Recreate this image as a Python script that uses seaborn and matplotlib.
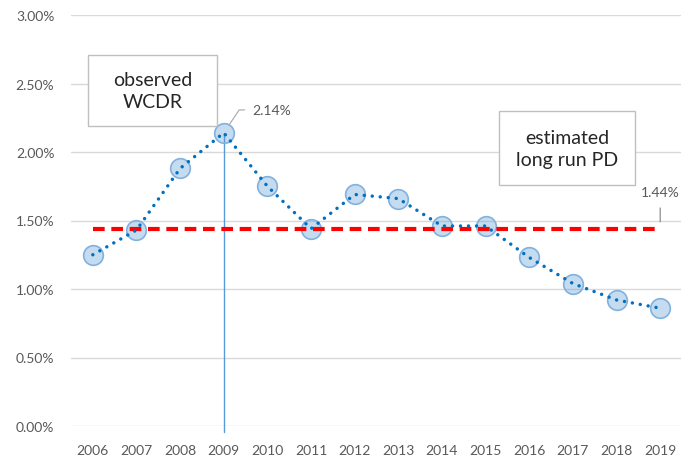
import numpy as np
import pandas as pd
import matplotlib
matplotlib.use("Agg")
import matplotlib.pyplot as plt
import seaborn as sns
from matplotlib.patches import Rectangle
from matplotlib.ticker import FuncFormatter

# dados (em %)
years = [2006, 2007, 2008, 2009, 2010, 2011, 2012, 2013, 2014, 2015, 2016, 2017, 2018, 2019]
wcdr = [1.25, 1.43, 1.88, 2.14, 1.75, 1.44, 1.69, 1.66, 1.46, 1.46, 1.23, 1.04, 0.92, 0.86]
long_run_pd = 1.44
y_ticks = [0.0, 0.5, 1.0, 1.5, 2.0, 2.5, 3.0]

df = pd.DataFrame({"Ano": years, "WCDR": wcdr})
df["PD"] = long_run_pd

sns.set_theme(style="white")
plt.rcParams["font.family"] = ["Lato", "DejaVu Sans"]

fig = plt.figure(figsize=(6.81, 4.60), dpi=100)
ax = fig.add_axes([71 / 681, 33 / 460, 611 / 681, 411 / 460])

# marcadores (círculos azul claro)
sns.scatterplot(data=df, x="Ano", y="WCDR", ax=ax, s=200,
                color=(0.36, 0.61, 0.84, 0.36), edgecolor="#82B1DE",
                linewidth=1.2, zorder=3, legend=False)

# linha do PD de longo prazo
sns.lineplot(data=df, x="Ano", y="PD", ax=ax, color="#FF0000", lw=3,
             zorder=4, legend=False)
ax.lines[-1].set_linestyle((0, (2.8, 1.6)))

# linha pontilhada do WCDR
sns.lineplot(data=df, x="Ano", y="WCDR", ax=ax, color="#0070C0", lw=2.5,
             zorder=5, legend=False)
l = ax.lines[-1]
l.set_linestyle((0, (0.01, 2.3)))
l.set_dash_capstyle("round")

# linha vertical no pico
i_pico = int(np.argmax(wcdr))
ax.plot([years[i_pico], years[i_pico]], [wcdr[i_pico], -0.045], color="#5B9BD5",
        lw=1, zorder=2, clip_on=False)

ax.set_xlim(2005.5, 2019.5)
ax.set_ylim(0, 3)
ax.set_xticks(years)
ax.set_yticks(y_ticks)
ax.yaxis.set_major_formatter(FuncFormatter(lambda v, p: f"{v:.2f}%"))
ax.grid(axis="y", color="#D9D9D9", lw=1)
ax.set_axisbelow(True)
for s in ax.spines.values():
    s.set_visible(False)
ax.tick_params(axis="both", length=0, labelsize=10, labelcolor="#595959")
ax.tick_params(axis="y", pad=12)
ax.tick_params(axis="x", pad=13)
ax.set_xlabel("")
ax.set_ylabel("")

# rótulos de dados
ax.annotate(f"{wcdr[i_pico]:.2f}%", xy=(years[i_pico], wcdr[i_pico]),
            xytext=(2009.65, 2.307), ha="left", va="center", fontsize=10,
            color="#595959", zorder=6,
            arrowprops=dict(arrowstyle="-", color="#A6A6A6", lw=0.8,
                            relpos=(0, 0.5), shrinkA=3, shrinkB=7,
                            connectionstyle="angle,angleA=0,angleB=56"))
ax.annotate(f"{long_run_pd:.2f}%", xy=(years[-1], long_run_pd),
            xytext=(years[-1], 1.71), ha="center", va="center", fontsize=10,
            color="#595959", zorder=6,
            arrowprops=dict(arrowstyle="-", color="#808080", lw=0.8,
                            shrinkA=5, shrinkB=5))

# caixas de texto
ax.add_patch(Rectangle((0.0278, 0.730), 0.211, 0.173, transform=ax.transAxes,
                       facecolor="white", edgecolor="#BFBFBF", lw=1, zorder=7))
ax.text(0.1333, 0.8163, "observed\nWCDR", transform=ax.transAxes, ha="center",
        va="center", fontsize=14, color="#262626", linespacing=1.35, zorder=8)
ax.add_patch(Rectangle((0.7005, 0.586), 0.2225, 0.180, transform=ax.transAxes,
                       facecolor="white", edgecolor="#BFBFBF", lw=1, zorder=7))
ax.text(0.812, 0.676, "estimated\nlong run PD", transform=ax.transAxes, ha="center",
        va="center", fontsize=14, color="#262626", linespacing=1.35, zorder=8)

fig.savefig("out.png", dpi=100)
